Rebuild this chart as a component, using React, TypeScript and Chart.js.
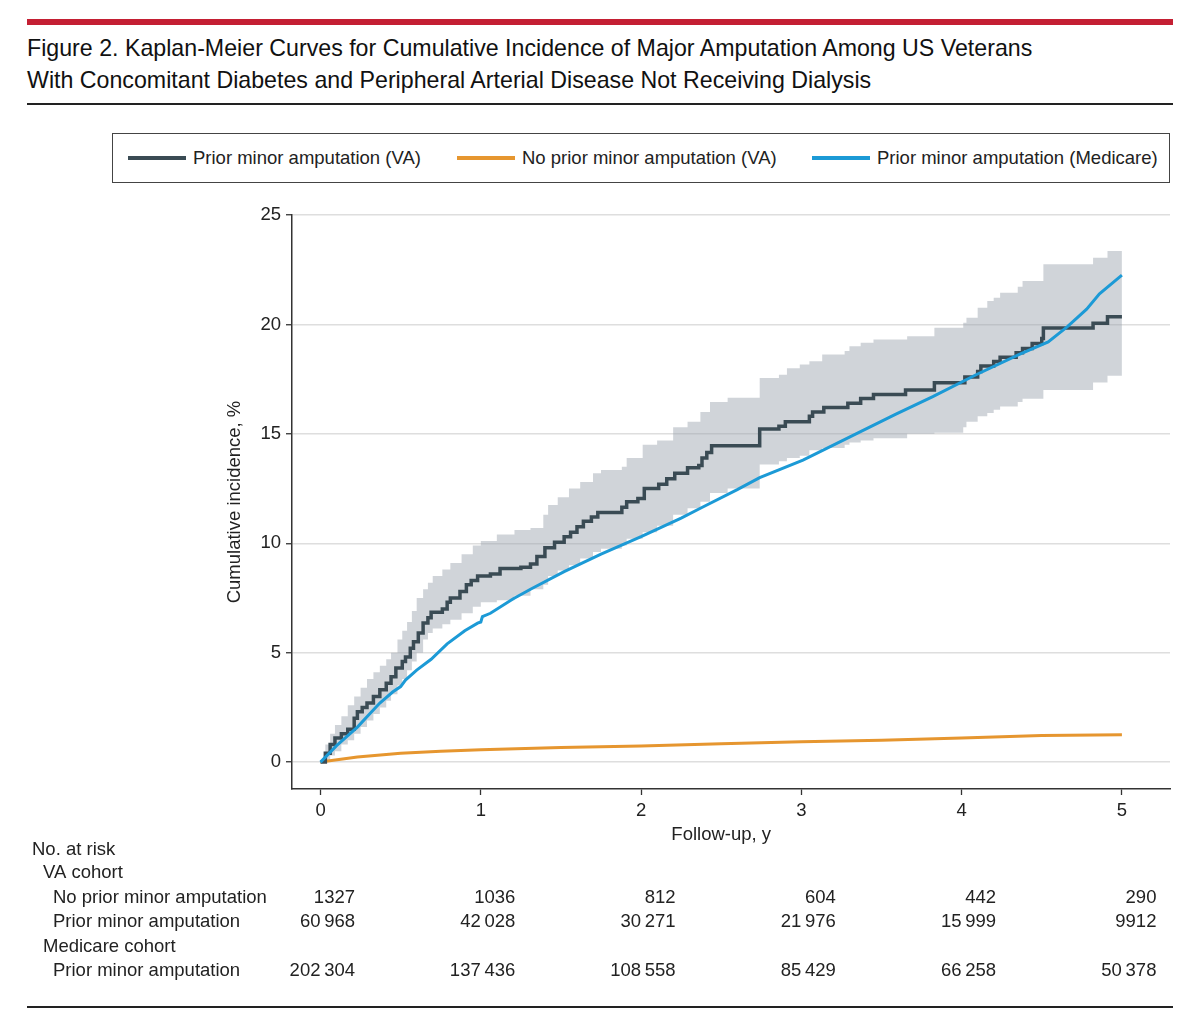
import { useEffect, useRef } from "react";
import { Chart, registerables, type Plugin } from "chart.js";

Chart.register(...registerables);

const FONT = "'Liberation Sans', Arial, sans-serif";
const SLATE = "#3a4b54";
const ORANGE = "#e6962f";
const BLUE = "#1c9ad6";
const BAND = "rgba(150, 160, 170, 0.45)";

// Prior minor amputation (VA): Kaplan-Meier step estimate, years / %
const vaPriorTime = [
  0, 0.03, 0.06, 0.09, 0.13, 0.17, 0.21, 0.23, 0.26, 0.29, 0.33, 0.37, 0.41, 0.44,
  0.47, 0.51, 0.53, 0.56, 0.58, 0.61, 0.64, 0.67, 0.69, 0.76, 0.79, 0.81, 0.87,
  0.91, 0.94, 0.98, 1.06, 1.12, 1.25, 1.31, 1.35, 1.4, 1.46, 1.52, 1.56, 1.6,
  1.64, 1.69, 1.73, 1.88, 1.91, 1.98, 2.02, 2.11, 2.16, 2.21, 2.29, 2.36, 2.38,
  2.41, 2.44, 2.74, 2.86, 2.9, 3.05, 3.07, 3.14, 3.29, 3.37, 3.45, 3.65, 3.83,
  4.02, 4.1, 4.12, 4.2, 4.24, 4.34, 4.38, 4.44, 4.5, 4.51, 4.82, 4.91, 5.0,
];
const vaPriorPct = [
  0, 0.4, 0.8, 1.1, 1.3, 1.5, 2.0, 2.3, 2.5, 2.7, 3.0, 3.3, 3.6, 3.9,
  4.3, 4.6, 4.8, 5.2, 5.5, 5.9, 6.35, 6.6, 6.85, 7.0, 7.3, 7.5, 7.8,
  8.1, 8.3, 8.5, 8.6, 8.85, 8.9, 9.05, 9.4, 9.8, 10.05, 10.3, 10.5, 10.75,
  11.0, 11.2, 11.4, 11.65, 11.9, 12.05, 12.5, 12.7, 12.95, 13.2, 13.45, 13.55, 13.9,
  14.15, 14.45, 15.22, 15.35, 15.55, 15.8, 16.0, 16.2, 16.4, 16.62, 16.8, 17.0, 17.33,
  17.6, 17.85, 18.1, 18.3, 18.5, 18.7, 18.9, 19.13, 19.36, 19.84, 20.05, 20.35, 20.35,
];

// 95% CI band for the VA prior-amputation curve
const bandTime = [
  0, 0.03, 0.06, 0.09, 0.13, 0.17, 0.21, 0.25, 0.29, 0.33, 0.37, 0.41, 0.44, 0.48,
  0.51, 0.54, 0.57, 0.6, 0.64, 0.67, 0.7, 0.76, 0.81, 0.88, 0.95, 1.0, 1.1, 1.21,
  1.31, 1.39, 1.42, 1.48, 1.55, 1.62, 1.7, 1.75, 1.88, 1.91, 2.01, 2.1, 2.2, 2.29,
  2.37, 2.43, 2.54, 2.74, 2.86, 2.91, 2.99, 3.05, 3.13, 3.27, 3.3, 3.37, 3.45, 3.66,
  3.83, 4.01, 4.03, 4.1, 4.16, 4.2, 4.24, 4.35, 4.38, 4.51, 4.82, 4.91, 5.0,
];
const bandLower = [
  0, 0.1, 0.3, 0.5, 0.8, 1.0, 1.3, 1.6, 1.9, 2.2, 2.5, 2.8, 3.1, 3.5,
  3.8, 4.2, 4.6, 5.0, 5.6, 5.9, 6.1, 6.3, 6.5, 6.8, 7.1, 7.3, 7.4, 7.6,
  7.9, 8.1, 8.5, 8.75, 9.0, 9.3, 9.6, 9.75, 9.9, 10.2, 10.5, 10.8, 11.3, 11.6,
  11.9, 12.3, 12.5, 13.6, 13.75, 13.9, 14.0, 14.25, 14.35, 14.5, 14.6, 14.7, 14.8, 15.0,
  15.05, 15.3, 15.55, 15.8, 15.95, 16.1, 16.25, 16.45, 16.6, 17.0, 17.35, 17.65, 17.65,
];
const bandUpper = [
  0, 0.8, 1.3, 1.7, 2.1, 2.6, 3.0, 3.4, 3.8, 4.1, 4.4, 4.7, 5.0, 5.6,
  6.0, 6.4, 6.9, 7.5, 7.9, 8.2, 8.5, 8.8, 9.1, 9.5, 9.9, 10.1, 10.4, 10.6,
  10.7, 11.3, 11.75, 12.1, 12.5, 12.8, 13.2, 13.35, 13.5, 13.9, 14.5, 14.7, 15.3, 15.55,
  16.0, 16.45, 16.65, 17.55, 17.7, 18.0, 18.17, 18.32, 18.63, 18.78, 19.0, 19.16, 19.31, 19.46,
  19.85, 20.08, 20.3, 20.76, 21.07, 21.22, 21.45, 21.72, 21.98, 22.75, 23.05, 23.35, 23.35,
];

// No prior minor amputation (VA)
const vaNoPriorTime = [0, 0.23, 0.5, 0.75, 1.0, 1.5, 2.0, 2.5, 3.0, 3.5, 4.0, 4.5, 5.0];
const vaNoPriorPct = [0, 0.23, 0.4, 0.5, 0.56, 0.67, 0.74, 0.84, 0.93, 1.0, 1.1, 1.22, 1.25];

// Prior minor amputation (Medicare)
const medicareTime = [
  0, 0.1, 0.23, 0.3, 0.37, 0.45, 0.5, 0.53, 0.6, 0.69, 0.79, 0.9, 0.98, 1.0, 1.01,
  1.06, 1.2, 1.31, 1.52, 1.75, 2.0, 2.25, 2.37, 2.6, 2.74, 3.01, 3.3, 3.59, 3.82,
  4.09, 4.36, 4.54, 4.66, 4.78, 4.86, 5.0,
];
const medicarePct = [
  0, 0.75, 1.6, 2.15, 2.7, 3.2, 3.45, 3.75, 4.2, 4.7, 5.4, 6.0, 6.35, 6.4, 6.65,
  6.8, 7.45, 7.9, 8.7, 9.5, 10.3, 11.15, 11.6, 12.45, 13.0, 13.8, 14.85, 15.9, 16.7,
  17.7, 18.63, 19.2, 19.9, 20.7, 21.4, 22.25,
];

const yearTicks = [0, 1, 2, 3, 4, 5];
const pctTicks = [0, 5, 10, 15, 20, 25];

const seriesNames = [
  "Prior minor amputation (VA)",
  "No prior minor amputation (VA)",
  "Prior minor amputation (Medicare)",
];

// Number at risk, at each year tick
const riskVaNoPrior = [1327, 1036, 812, 604, 442, 290];
const riskVaPrior = [60968, 42028, 30271, 21976, 15999, 9912];
const riskMedicare = [202304, 137436, 108558, 85429, 66258, 50378];

const fmt = (n: number) =>
  n >= 10000 ? String(n).replace(/\B(?=(\d{3})+(?!\d))/g, "\u2009") : String(n);

const pts = (xs: number[], ys: number[]) => xs.map((x, i) => ({ x, y: ys[i] }));

// canvas sits at page y = 190
const CANVAS_TOP = 190;

const riskTablePlugin: Plugin<"line"> = {
  id: "riskTable",
  afterDraw(chart) {
    const { ctx } = chart;
    const x = chart.scales.x;
    ctx.save();
    ctx.fillStyle = "#222";
    ctx.textBaseline = "middle";
    ctx.font = `18.5px ${FONT}`;
    ctx.textAlign = "center";
    ctx.fillText("Follow-up, y", x.getPixelForValue(2.5), 835 - CANVAS_TOP);

    const rows: { label: string; left: number; y: number; values?: number[] }[] = [
      { label: "No. at risk", left: 32, y: 850 },
      { label: "VA cohort", left: 43, y: 873 },
      { label: "No prior minor amputation", left: 53, y: 898, values: riskVaNoPrior },
      { label: "Prior minor amputation", left: 53, y: 922, values: riskVaPrior },
      { label: "Medicare cohort", left: 43, y: 947 },
      { label: "Prior minor amputation", left: 53, y: 971, values: riskMedicare },
    ];
    rows.forEach((r) => {
      const y = r.y - CANVAS_TOP;
      ctx.textAlign = "left";
      ctx.fillText(r.label, r.left, y);
      if (r.values) {
        ctx.textAlign = "right";
        r.values.forEach((v, i) => {
          ctx.fillText(fmt(v), x.getPixelForValue(yearTicks[i]) + 34.5, y);
        });
      }
    });
    ctx.restore();
  },
};

export default function App() {
  const canvasRef = useRef<HTMLCanvasElement>(null);

  useEffect(() => {
    if (!canvasRef.current) return;
    const tickFont = { family: FONT, size: 18.5 };
    const chart = new Chart(canvasRef.current, {
      type: "line",
      plugins: [riskTablePlugin],
      data: {
        datasets: [
          {
            label: seriesNames[2],
            data: pts(medicareTime, medicarePct),
            borderColor: BLUE,
            borderWidth: 3,
            pointRadius: 0,
            fill: false,
          },
          {
            label: seriesNames[0],
            data: pts(vaPriorTime, vaPriorPct),
            stepped: "before",
            borderColor: SLATE,
            borderWidth: 3.5,
            pointRadius: 0,
            fill: false,
          },
          {
            label: seriesNames[1],
            data: pts(vaNoPriorTime, vaNoPriorPct),
            borderColor: ORANGE,
            borderWidth: 3,
            pointRadius: 0,
            fill: false,
          },
          {
            label: "95% CI upper",
            data: pts(bandTime, bandUpper),
            stepped: "before",
            borderColor: "rgba(0,0,0,0)",
            borderWidth: 0,
            backgroundColor: BAND,
            pointRadius: 0,
            fill: "+1",
          },
          {
            label: "95% CI lower",
            data: pts(bandTime, bandLower),
            stepped: "before",
            borderColor: "rgba(0,0,0,0)",
            borderWidth: 0,
            pointRadius: 0,
            fill: false,
          },
        ],
      },
      options: {
        animation: false,
        responsive: false,
        maintainAspectRatio: false,
        layout: { padding: { left: 224, right: 30, top: 25, bottom: 171 } },
        plugins: {
          legend: { display: false },
          tooltip: { enabled: false },
        },
        scales: {
          x: {
            type: "linear",
            min: -0.178,
            max: 5.3,
            afterBuildTicks: (s) => {
              s.ticks = yearTicks.map((v) => ({ value: v }));
            },
            afterFit: (s) => {
              s.height = 40;
            },
            grid: { drawOnChartArea: false, tickLength: 6, tickColor: "#333", tickWidth: 1.3 },
            border: { color: "#333", width: 1.5 },
            ticks: { font: tickFont, color: "#222", padding: 5 },
          },
          y: {
            type: "linear",
            min: -1.23,
            max: 25,
            afterBuildTicks: (s) => {
              s.ticks = pctTicks.map((v) => ({ value: v }));
            },
            afterFit: (s) => {
              s.width = 68;
            },
            grid: { color: "#dedede", lineWidth: 1.5, tickLength: 6, tickColor: "#333", tickWidth: 1.3 },
            border: { color: "#333", width: 1.5 },
            ticks: { font: tickFont, color: "#222", padding: 5 },
            title: {
              display: true,
              text: "Cumulative incidence, %",
              font: tickFont,
              color: "#222",
              padding: 0,
            },
          },
        },
      },
    });
    return () => chart.destroy();
  }, []);

  const legendColors = [SLATE, ORANGE, BLUE];
  const legendLeft = [15, 344, 699];

  return (
    <div
      style={{
        position: "absolute",
        left: 0,
        top: 0,
        width: 1200,
        height: 1017,
        background: "#fff",
        fontFamily: FONT,
        color: "#222",
      }}
    >
      <div style={{ position: "absolute", left: 27, top: 19, width: 1146, height: 6, background: "#c41f33" }} />
      <div style={{ position: "absolute", left: 27, top: 33, fontSize: 23.2, lineHeight: "30px", whiteSpace: "nowrap", color: "#111" }}>
        Figure 2. Kaplan-Meier Curves for Cumulative Incidence of Major Amputation Among US Veterans
      </div>
      <div style={{ position: "absolute", left: 27, top: 65, fontSize: 23.2, lineHeight: "30px", whiteSpace: "nowrap", color: "#111" }}>
        With Concomitant Diabetes and Peripheral Arterial Disease Not Receiving Dialysis
      </div>
      <div style={{ position: "absolute", left: 27, top: 103, width: 1146, height: 2, background: "#222" }} />

      <div
        style={{
          position: "absolute",
          left: 112,
          top: 133,
          width: 1058,
          height: 50,
          boxSizing: "border-box",
          border: "1.5px solid #444",
        }}
      >
        {seriesNames.map((name, i) => (
          <div
            key={name}
            style={{
              position: "absolute",
              left: legendLeft[i],
              top: 0,
              height: 47,
              display: "flex",
              alignItems: "center",
              gap: 7,
              fontSize: 18.5,
              whiteSpace: "nowrap",
            }}
          >
            <span style={{ width: 58, height: 4, background: legendColors[i], display: "inline-block" }} />
            <span>{name}</span>
          </div>
        ))}
      </div>

      <canvas
        ref={canvasRef}
        width={1200}
        height={810}
        style={{ position: "absolute", left: 0, top: CANVAS_TOP, width: 1200, height: 810 }}
      />

      <div style={{ position: "absolute", left: 27, top: 1006, width: 1146, height: 2, background: "#222" }} />
    </div>
  );
}
